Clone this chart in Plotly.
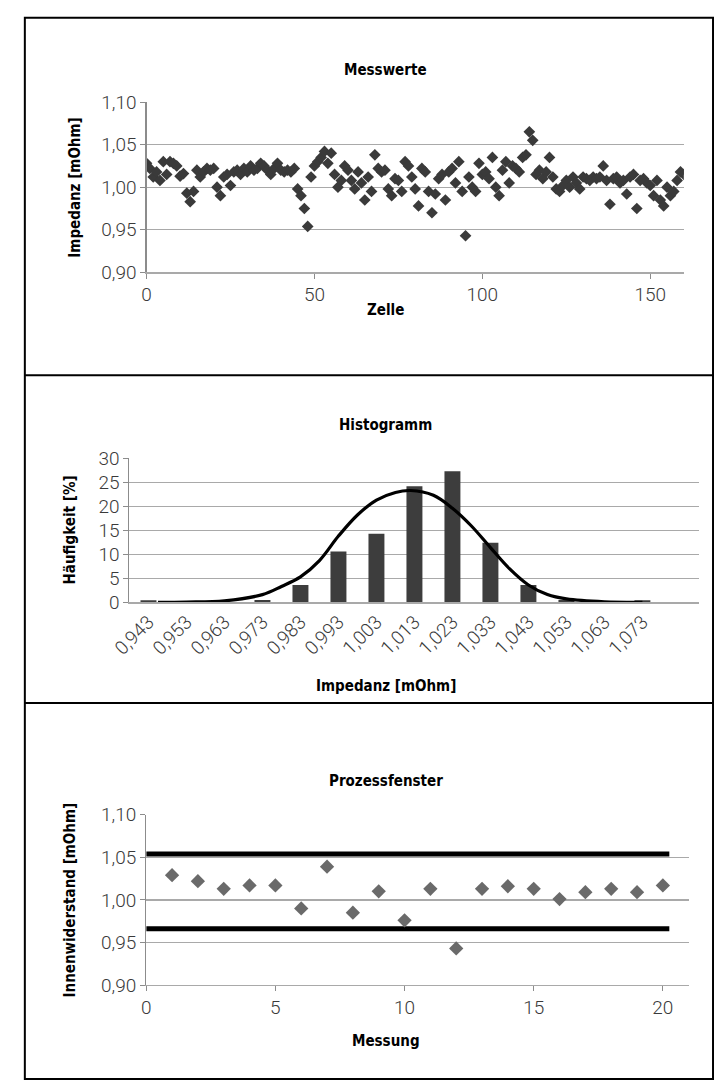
import plotly.graph_objects as go

W, H = 714, 1092

# ---------------- data ----------------
zelle_impedanz = [
    1.028, 1.022, 1.012, 1.018, 1.008, 1.030, 1.015, 1.030, 1.028, 1.025, 1.013,
    1.016, 0.993, 0.983, 0.995, 1.020, 1.012, 1.018, 1.022, 1.020, 1.022,
    1.000, 0.990, 1.012, 1.015, 1.002, 1.018, 1.020, 1.015, 1.022, 1.018,
    1.025, 1.020, 1.022, 1.028, 1.025, 1.020, 1.015, 1.022, 1.028, 1.020,
    1.018, 1.020, 1.018, 1.022, 0.998, 0.990, 0.975, 0.954, 1.012, 1.025,
    1.030, 1.035, 1.042, 1.028, 1.040, 1.015, 1.000, 1.008, 1.025, 1.020,
    1.008, 0.998, 1.018, 1.005, 0.985, 1.012, 0.995, 1.038, 1.022, 1.018,
    1.020, 0.998, 0.990, 1.010, 1.008, 0.995, 1.030, 1.025, 1.012, 0.998,
    0.978, 1.022, 1.018, 0.995, 0.970, 0.992, 1.010, 1.015, 0.985, 1.018,
    1.022, 1.005, 1.030, 0.995, 0.943, 1.012, 1.000, 0.995, 1.028, 1.015,
    1.018, 1.010, 1.035, 1.000, 0.990, 1.020, 1.030, 1.005, 1.025, 1.022,
    1.018, 1.035, 1.038, 1.065, 1.055, 1.015, 1.020, 1.010, 1.018, 1.035,
    1.012, 0.998, 0.995, 1.002, 1.008, 1.000, 1.012, 1.005, 0.998, 1.012,
    1.010, 1.008, 1.012, 1.010, 1.012, 1.025, 1.008, 0.980, 1.010, 1.012,
    1.005, 1.008, 0.992, 1.012, 1.015, 0.975, 1.008, 1.010, 1.005, 1.002,
    0.990, 1.008, 0.985, 0.978, 1.000, 0.990, 0.995, 1.008, 1.018, 1.015,
]
zelle = list(range(len(zelle_impedanz)))

hist_labels = ["0,943", "0,953", "0,963", "0,973", "0,983", "0,993", "1,003",
               "1,013", "1,023", "1,033", "1,043", "1,053", "1,063", "1,073"]
hist_haeufigkeit = [0.4, 0.0, 0.0, 0.5, 3.6, 10.6, 14.3, 24.2, 27.3, 12.4, 3.6, 0.5, 0.0, 0.4]

# fitted normal curve (x in category-index units)
kurve_x = [0.25, 1.0, 2.0, 3.0, 3.5, 4.0, 4.5, 5.0, 5.5, 6.0, 6.5, 6.9,
           7.5, 8.0, 8.5, 9.0, 9.5, 10.0, 10.5, 11.0, 12.0, 13.0]
kurve_y = [0.0, 0.05, 0.3, 1.6, 3.3, 5.3, 8.7, 13.8, 18.2, 21.3, 22.9, 23.3,
           22.3, 19.6, 15.9, 11.4, 7.0, 3.6, 1.6, 0.7, 0.1, 0.0]

messung = list(range(1, 21))
innenwiderstand = [1.029, 1.022, 1.013, 1.017, 1.017, 0.990, 1.039, 0.985, 1.010, 0.976,
                   1.013, 0.943, 1.013, 1.016, 1.013, 1.001, 1.009, 1.013, 1.009, 1.017]
grenze_oben = 1.054
grenze_unten = 0.966
grenze_x = [0, 20.25]

# ---------------- helpers (page pixel -> paper) ----------------
def px(x):
    return x / W

def py(y):
    return 1 - y / H

FONT = "Roboto, 'Liberation Sans', sans-serif"
TITLE_FAMILY = "'DejaVu Sans Condensed', Roboto, 'Liberation Sans', sans-serif"
TICKFONT = dict(family=FONT, size=19, color="#3a3a3a", weight=300)
TITLEFONT = dict(family=TITLE_FAMILY, size=15, color="#000000", weight="bold")
GRID = "#a9a9a9"

fig = go.Figure()

# panel 1
fig.add_trace(go.Scatter(x=zelle, y=zelle_impedanz, mode="markers",
                         marker=dict(symbol="diamond", size=9, color="#3a3a3a"),
                         xaxis="x", yaxis="y", showlegend=False))
# panel 2
fig.add_trace(go.Bar(x=list(range(len(hist_labels))), y=hist_haeufigkeit,
                     marker=dict(color="#3d3d3d", line=dict(width=0)), width=0.42,
                     xaxis="x2", yaxis="y2", showlegend=False))
fig.add_trace(go.Scatter(x=kurve_x, y=kurve_y, mode="lines",
                         line=dict(color="#000000", width=3.2, shape="spline"),
                         xaxis="x2", yaxis="y2", showlegend=False))
# panel 3
fig.add_trace(go.Scatter(x=grenze_x, y=[grenze_oben, grenze_oben], mode="lines",
                         line=dict(color="#000000", width=5),
                         xaxis="x3", yaxis="y3", showlegend=False))
fig.add_trace(go.Scatter(x=grenze_x, y=[grenze_unten, grenze_unten], mode="lines",
                         line=dict(color="#000000", width=5),
                         xaxis="x3", yaxis="y3", showlegend=False))
fig.add_trace(go.Scatter(x=messung, y=innenwiderstand, mode="markers",
                         marker=dict(symbol="diamond", size=11, color="#6a6a6a"),
                         xaxis="x3", yaxis="y3", showlegend=False))

common_y = dict(showgrid=True, gridcolor=GRID, gridwidth=1.3, showline=True,
                linecolor="#8c8c8c", linewidth=1.2, ticks="outside", ticklen=5,
                tickcolor="#8c8c8c", tickfont=TICKFONT, zeroline=False, fixedrange=True)
common_x = dict(showgrid=False, showline=True, linecolor=GRID, linewidth=1.3,
                ticks="outside", ticklen=5, tickcolor="#8c8c8c", tickfont=TICKFONT,
                zeroline=False, fixedrange=True)

fig.update_layout(
    width=W, height=H, margin=dict(l=0, r=0, t=0, b=0),
    paper_bgcolor="white", plot_bgcolor="white",
    separators=",.",
    xaxis=dict(common_x, domain=[px(131), px(683)], range=[0, 160],
               tickvals=[0, 50, 100, 150], anchor="y"),
    yaxis=dict(common_y, domain=[py(267), py(93)], range=[0.90, 1.10],
               tickvals=[0.90, 0.95, 1.00, 1.05, 1.10], tickformat=".2f", anchor="x"),
    xaxis2=dict(common_x, domain=[px(113.5), px(699)], range=[-0.5, 14.5],
                tickvals=list(range(len(hist_labels))), ticktext=hist_labels,
                tickangle=-45, ticks="", anchor="y2",
                tickfont=dict(TICKFONT, size=19)),
    yaxis2=dict(common_y, domain=[py(604), py(457)], range=[0, 30],
                tickvals=[0, 5, 10, 15, 20, 25, 30], anchor="x2"),
    xaxis3=dict(common_x, domain=[px(130.7), px(688)], range=[0, 21],
                tickvals=[0, 5, 10, 15, 20], anchor="y3"),
    yaxis3=dict(common_y, domain=[py(995), py(821)], range=[0.90, 1.10],
                tickvals=[0.90, 0.95, 1.00, 1.05, 1.10], tickformat=".2f", anchor="x3"),
)

ann = [
    ("Messwerte", 377, 60, 0),
    ("Zelle", 377, 305, 0),
    ("Impedanz [mOhm]", 58, 180, -90),
    ("Histogramm", 377, 423, 0),
    ("Impedanz [mOhm]", 377, 690, 0),
    ("Häufigkeit [%]", 52, 530, -90),
    ("Prozessfenster", 377, 787, 0),
    ("Messung", 377, 1052, 0),
    ("Innenwiderstand [mOhm]", 52, 908, -90),
]
for text, x, y, ang in ann:
    fig.add_annotation(text=text, x=px(x), y=py(y), xref="paper", yref="paper",
                       showarrow=False, textangle=ang, font=TITLEFONT,
                       xanchor="center", yanchor="middle")

# frame and panel dividers
fig.add_shape(type="rect", xref="paper", yref="paper", x0=px(6), x1=px(713),
              y0=py(1091), y1=py(7), line=dict(color="#000000", width=2))
for yy in [372, 707]:
    fig.add_shape(type="line", xref="paper", yref="paper", x0=px(6), x1=px(713),
                  y0=py(yy), y1=py(yy), line=dict(color="#000000", width=2))

# remove the default page margin so the 714x1092 figure fills the window exactly
fix_page = ("document.documentElement.style.margin='0';"
            "document.body.style.margin='0';"
            "document.body.style.overflow='hidden';"
            "document.documentElement.style.overflow='hidden';")
fig.write_html("out.html", post_script=fix_page,
               config={"displayModeBar": False, "staticPlot": True})
